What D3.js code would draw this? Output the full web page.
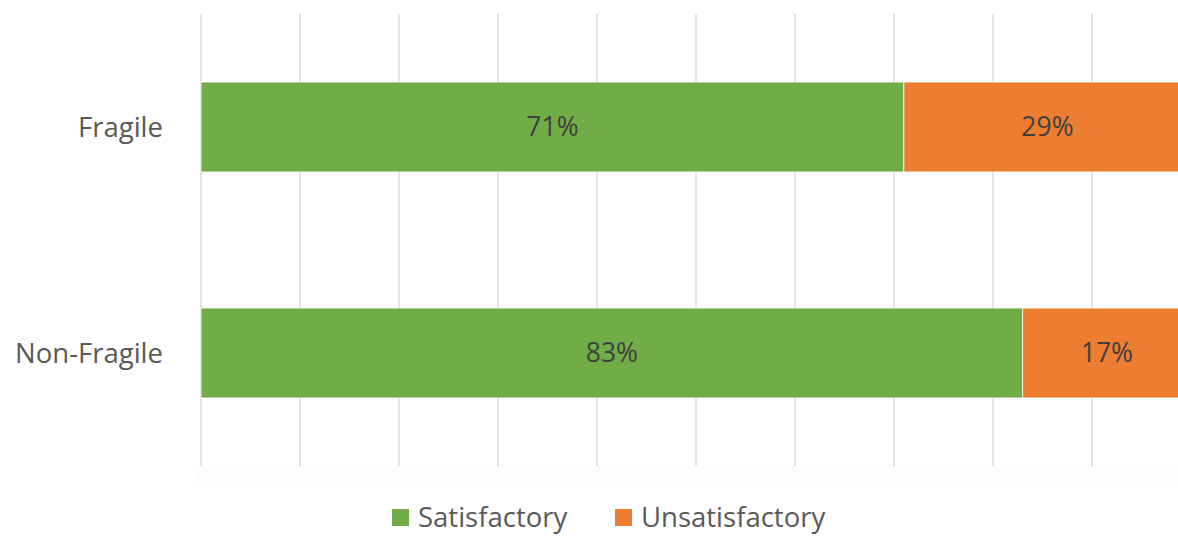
<!DOCTYPE html>
<html>
<head>
<meta charset="utf-8">
<script src="https://cdn.jsdelivr.net/npm/d3@7/dist/d3.min.js"></script>
<style>
  body { margin: 0; background: #fff; }
  text { font-family: "Open Sans", "Noto Sans", sans-serif; }
</style>
</head>
<body>
<div id="chart"></div>
<script>
var categories = ["Fragile", "Non-Fragile"];
var seriesNames = ["Satisfactory", "Unsatisfactory"];
var satisfactory = [0.71, 0.83];
var unsatisfactory = [0.29, 0.17];
var gridTicks = [0, 0.1, 0.2, 0.3, 0.4, 0.5, 0.6, 0.7, 0.8, 0.9, 1.0];

var colors = ["#70ad47", "#ed7d31"];

var svgWidth = 1178;
var svgHeight = 536;

var svg = d3.select("#chart")
  .append("svg")
  .attr("width", svgWidth)
  .attr("height", svgHeight);

// plot area runs past the right edge, like the cropped original
var xScale = d3.scaleLinear().domain([0, 1]).range([201, 1191]);
var yScale = d3.scaleBand().domain(categories).range([14, 466])
  .paddingInner(0.602).paddingOuter(0.301);

// faint band under the plot
svg.append("rect")
  .attr("x", 196).attr("y", 467)
  .attr("width", svgWidth - 196).attr("height", 19)
  .attr("fill", "#fdfdfd");

// gridlines
svg.append("g").selectAll("line")
  .data(gridTicks)
  .enter()
  .append("line")
  .attr("x1", d => xScale(d))
  .attr("x2", d => xScale(d))
  .attr("y1", 14)
  .attr("y2", 466)
  .attr("stroke", "#d9d9d9")
  .attr("stroke-width", 1.5);

// stacked rows
var rows = categories.map(function(c, i) {
  return [
    { cat: c, start: 0, value: satisfactory[i], color: colors[0] },
    { cat: c, start: satisfactory[i], value: unsatisfactory[i], color: colors[1] }
  ];
});
var segs = [].concat.apply([], rows);

svg.append("g").selectAll("rect")
  .data(segs)
  .enter()
  .append("rect")
  .attr("x", d => xScale(d.start))
  .attr("y", d => yScale(d.cat))
  .attr("width", d => xScale(d.start + d.value) - xScale(d.start))
  .attr("height", yScale.bandwidth())
  .attr("fill", d => d.color)
  .attr("stroke", "#ffffff")
  .attr("stroke-width", 0.75);

// data labels
svg.append("g").selectAll("text")
  .data(segs)
  .enter()
  .append("text")
  .attr("x", d => xScale(d.start + d.value / 2))
  .attr("y", d => yScale(d.cat) + yScale.bandwidth() / 2)
  .attr("dy", "0.35em")
  .attr("text-anchor", "middle")
  .attr("fill", "#404040")
  .style("font-size", "26.5px")
  .text(d => Math.round(d.value * 100) + "%");

// category labels
svg.append("g").selectAll("text")
  .data(categories)
  .enter()
  .append("text")
  .attr("x", 163)
  .attr("y", d => yScale(d) + yScale.bandwidth() / 2)
  .attr("dy", "0.35em")
  .attr("text-anchor", "end")
  .attr("fill", "#595959")
  .style("font-size", "27.5px")
  .text(d => d);

// legend
var legendX = [392, 615];
var legend = svg.append("g").selectAll("g")
  .data(seriesNames)
  .enter()
  .append("g")
  .attr("transform", (d, i) => `translate(${legendX[i]}, 509)`);

legend.append("rect")
  .attr("width", 17)
  .attr("height", 17)
  .attr("fill", (d, i) => colors[i]);

legend.append("text")
  .attr("x", 26)
  .attr("y", 18)
  .attr("fill", "#595959")
  .style("font-size", "27.5px")
  .text(d => d);
</script>
</body>
</html>
